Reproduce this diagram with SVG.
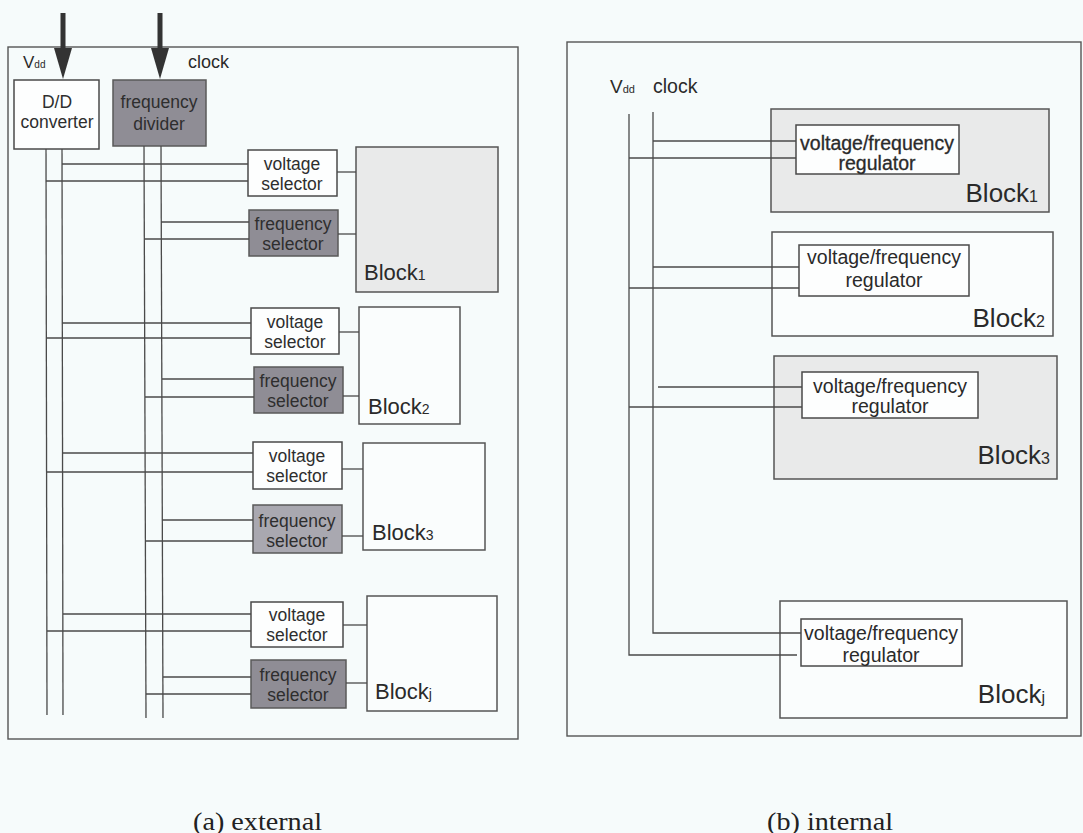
<svg xmlns="http://www.w3.org/2000/svg" width="1083" height="833" viewBox="0 0 1083 833">
<style>
.frame{fill:none;stroke:#555;stroke-width:1.4}
.box{fill:#fdfefe;stroke:#4a4a4a;stroke-width:1.5}
.dark{fill:#8f8d95;stroke:#5a5a5a;stroke-width:1.5}
.mid{fill:#a9a8b0;stroke:#5a5a5a;stroke-width:1.5}
.light{fill:#e9eaea;stroke:#555;stroke-width:1.5}
.blk{fill:#fafdfd;stroke:#555;stroke-width:1.5}
.w{fill:none;stroke:#4a4a4a;stroke-width:1.3}
.t{font-family:"Liberation Sans",Arial,sans-serif;font-size:17.5px;fill:#2e2e2e;text-anchor:middle}
.tr{font-family:"Liberation Sans",Arial,sans-serif;font-size:19.5px;fill:#2a2a2a;text-anchor:middle}
.bl{font-family:"Liberation Sans",Arial,sans-serif;font-size:22px;fill:#2a2a2a}
.br{font-family:"Liberation Sans",Arial,sans-serif;font-size:26px;fill:#2a2a2a;text-anchor:end}
.lab{font-family:"Liberation Sans",Arial,sans-serif;fill:#2a2a2a}
.cap{font-family:"Liberation Serif","Times New Roman",serif;font-size:25px;fill:#222}
.arrow{fill:#333}
</style>
<rect x="0" y="0" width="1083" height="833" fill="#f6fbfb"/>

<!-- frames -->
<rect class="frame" x="8" y="47" width="510" height="692"/>
<rect class="frame" x="567" y="42" width="514" height="694"/>

<!-- labels -->
<text class="lab" x="23" y="68" font-size="17">V<tspan font-size="10">dd</tspan></text>
<text class="lab" x="188" y="68" font-size="18">clock</text>
<text class="lab" x="610" y="93" font-size="19">V<tspan font-size="11">dd</tspan></text>
<text class="lab" x="653" y="93" font-size="19.5">clock</text>

<g id="dd-converter">
  <rect class="box" x="14" y="80" width="85" height="69"/>
  <text class="t" x="57" y="108">D/D</text>
  <text class="t" x="57" y="128">converter</text>
</g>
<g id="freq-divider">
  <rect class="dark" x="113" y="80" width="93" height="66" fill="#9c9aa1"/>
  <text class="t" x="159" y="108">frequency</text>
  <text class="t" x="159" y="130">divider</text>
</g>

<g id="vsel1"><rect class="box" x="248" y="150" width="89" height="46"/><text class="t" x="292" y="170">voltage</text><text class="t" x="292" y="190">selector</text></g>
<g id="fsel1"><rect class="dark" x="249" y="210" width="89" height="46"/><text class="t" x="293" y="230">frequency</text><text class="t" x="293" y="250">selector</text></g>
<g id="block1a"><rect class="light" x="356" y="147" width="142" height="145"/><text class="bl" x="364" y="280">Block<tspan font-size="14">1</tspan></text></g>

<g id="vsel2"><rect class="box" x="251" y="308" width="88" height="46"/><text class="t" x="295" y="328">voltage</text><text class="t" x="295" y="348">selector</text></g>
<g id="fsel2"><rect class="dark" x="254" y="367" width="89" height="46" fill="#858389"/><text class="t" x="298" y="387">frequency</text><text class="t" x="298" y="407">selector</text></g>
<g id="block2a"><rect class="blk" x="359" y="307" width="101" height="117"/><text class="bl" x="368" y="414">Block<tspan font-size="14">2</tspan></text></g>

<g id="vsel3"><rect class="box" x="253" y="442" width="89" height="47"/><text class="t" x="297" y="462">voltage</text><text class="t" x="297" y="482">selector</text></g>
<g id="fsel3"><rect class="mid" x="253" y="505" width="89" height="48"/><text class="t" x="297" y="527">frequency</text><text class="t" x="297" y="547">selector</text></g>
<g id="block3a"><rect class="blk" x="363" y="443" width="122" height="107"/><text class="bl" x="372" y="540">Block<tspan font-size="14">3</tspan></text></g>

<g id="vselj"><rect class="box" x="251" y="602" width="92" height="45"/><text class="t" x="297" y="621">voltage</text><text class="t" x="297" y="641">selector</text></g>
<g id="fselj"><rect class="dark" x="251" y="660" width="95" height="48" fill="#97959c"/><text class="t" x="298" y="681">frequency</text><text class="t" x="298" y="701">selector</text></g>
<g id="blockja"><rect class="blk" x="367" y="596" width="130" height="115"/><text class="bl" x="375" y="699">Block<tspan font-size="14">j</tspan></text></g>

<!-- right panel nodes -->
<g id="block1b"><rect class="light" x="771" y="109" width="278" height="103" fill="#eceded"/><text class="br" x="1038" y="202">Block<tspan font-size="16">1</tspan></text></g>
<g id="reg1"><rect class="box" x="796" y="125" width="163" height="49" fill="#eff1f1"/><text class="tr" x="877" y="150" stroke="#2a2a2a" stroke-width="0.3">voltage/frequency</text><text class="tr" x="877" y="170" stroke="#2a2a2a" stroke-width="0.3">regulator</text></g>

<g id="block2b"><rect class="blk" x="772" y="232" width="281" height="104"/><text class="br" x="1045" y="327">Block<tspan font-size="16">2</tspan></text></g>
<g id="reg2"><rect class="box" x="799" y="245" width="170" height="51"/><text class="tr" x="884" y="264">voltage/frequency</text><text class="tr" x="884" y="287">regulator</text></g>

<g id="block3b"><rect class="light" x="774" y="356" width="283" height="123" fill="#eff0f0"/><text class="br" x="1050" y="464">Block<tspan font-size="16">3</tspan></text></g>
<g id="reg3"><rect class="box" x="802" y="372" width="176" height="46" fill="#f4f6f6"/><text class="tr" x="890" y="393">voltage/frequency</text><text class="tr" x="890" y="413">regulator</text></g>

<g id="blockjb"><rect class="blk" x="780" y="601" width="287" height="117"/><text class="br" x="1045" y="703">Block<tspan font-size="16">j</tspan></text></g>
<g id="regj"><rect class="box" x="801" y="619" width="161" height="47"/><text class="tr" x="881" y="640">voltage/frequency</text><text class="tr" x="881" y="662">regulator</text></g>

<g id="connectors">
  <!-- left arrows -->
  <rect class="arrow" x="60.5" y="13" width="5" height="36"/>
  <polygon class="arrow" points="54,48 72,48 63,79"/>
  <rect class="arrow" x="157.5" y="13" width="5" height="36"/>
  <polygon class="arrow" points="151,48 169,48 160,79"/>
  <!-- left verticals -->
  <line class="w" x1="46" y1="149" x2="47" y2="715"/>
  <line class="w" x1="62" y1="149" x2="63" y2="715"/>
  <line class="w" x1="144" y1="146" x2="146" y2="718"/>
  <line class="w" x1="161" y1="146" x2="163" y2="718"/>
  <!-- block1 -->
  <line class="w" x1="62" y1="164" x2="248" y2="164"/>
  <line class="w" x1="46" y1="181" x2="248" y2="181"/>
  <line class="w" x1="161" y1="222" x2="249" y2="222"/>
  <line class="w" x1="144" y1="239" x2="249" y2="239"/>
  <line class="w" x1="337" y1="172" x2="356" y2="172"/>
  <line class="w" x1="338" y1="234" x2="356" y2="234"/>
  <!-- block2 -->
  <line class="w" x1="62" y1="323" x2="251" y2="323"/>
  <line class="w" x1="46" y1="338" x2="251" y2="338"/>
  <line class="w" x1="162" y1="379" x2="254" y2="379"/>
  <line class="w" x1="145" y1="397" x2="254" y2="397"/>
  <line class="w" x1="339" y1="332" x2="359" y2="332"/>
  <line class="w" x1="343" y1="396" x2="359" y2="396"/>
  <!-- block3 -->
  <line class="w" x1="62" y1="453" x2="253" y2="453"/>
  <line class="w" x1="46" y1="472" x2="253" y2="472"/>
  <line class="w" x1="162" y1="520" x2="253" y2="520"/>
  <line class="w" x1="145" y1="541" x2="253" y2="541"/>
  <line class="w" x1="342" y1="469" x2="363" y2="469"/>
  <line class="w" x1="342" y1="536" x2="363" y2="536"/>
  <!-- block j -->
  <line class="w" x1="63" y1="614" x2="251" y2="614"/>
  <line class="w" x1="47" y1="631" x2="251" y2="631"/>
  <line class="w" x1="163" y1="677" x2="251" y2="677"/>
  <line class="w" x1="146" y1="694" x2="251" y2="694"/>
  <line class="w" x1="343" y1="625" x2="367" y2="625"/>
  <line class="w" x1="346" y1="683" x2="367" y2="683"/>
  <!-- right panel -->
  <polyline class="w" points="629,114 629,655 797,655"/>
  <polyline class="w" points="653,112 653,633 801,633"/>
  <line class="w" x1="653" y1="141" x2="796" y2="141"/>
  <line class="w" x1="629" y1="158" x2="796" y2="158"/>
  <line class="w" x1="653" y1="267" x2="799" y2="267"/>
  <line class="w" x1="629" y1="288" x2="799" y2="288"/>
  <line class="w" x1="658" y1="387" x2="802" y2="387"/>
  <line class="w" x1="629" y1="407" x2="802" y2="407"/>
</g>

<!-- captions -->
<text class="cap" x="193" y="830" textLength="129" lengthAdjust="spacingAndGlyphs">(a) external</text>
<text class="cap" x="767" y="830" textLength="126" lengthAdjust="spacingAndGlyphs">(b) internal</text>
</svg>
